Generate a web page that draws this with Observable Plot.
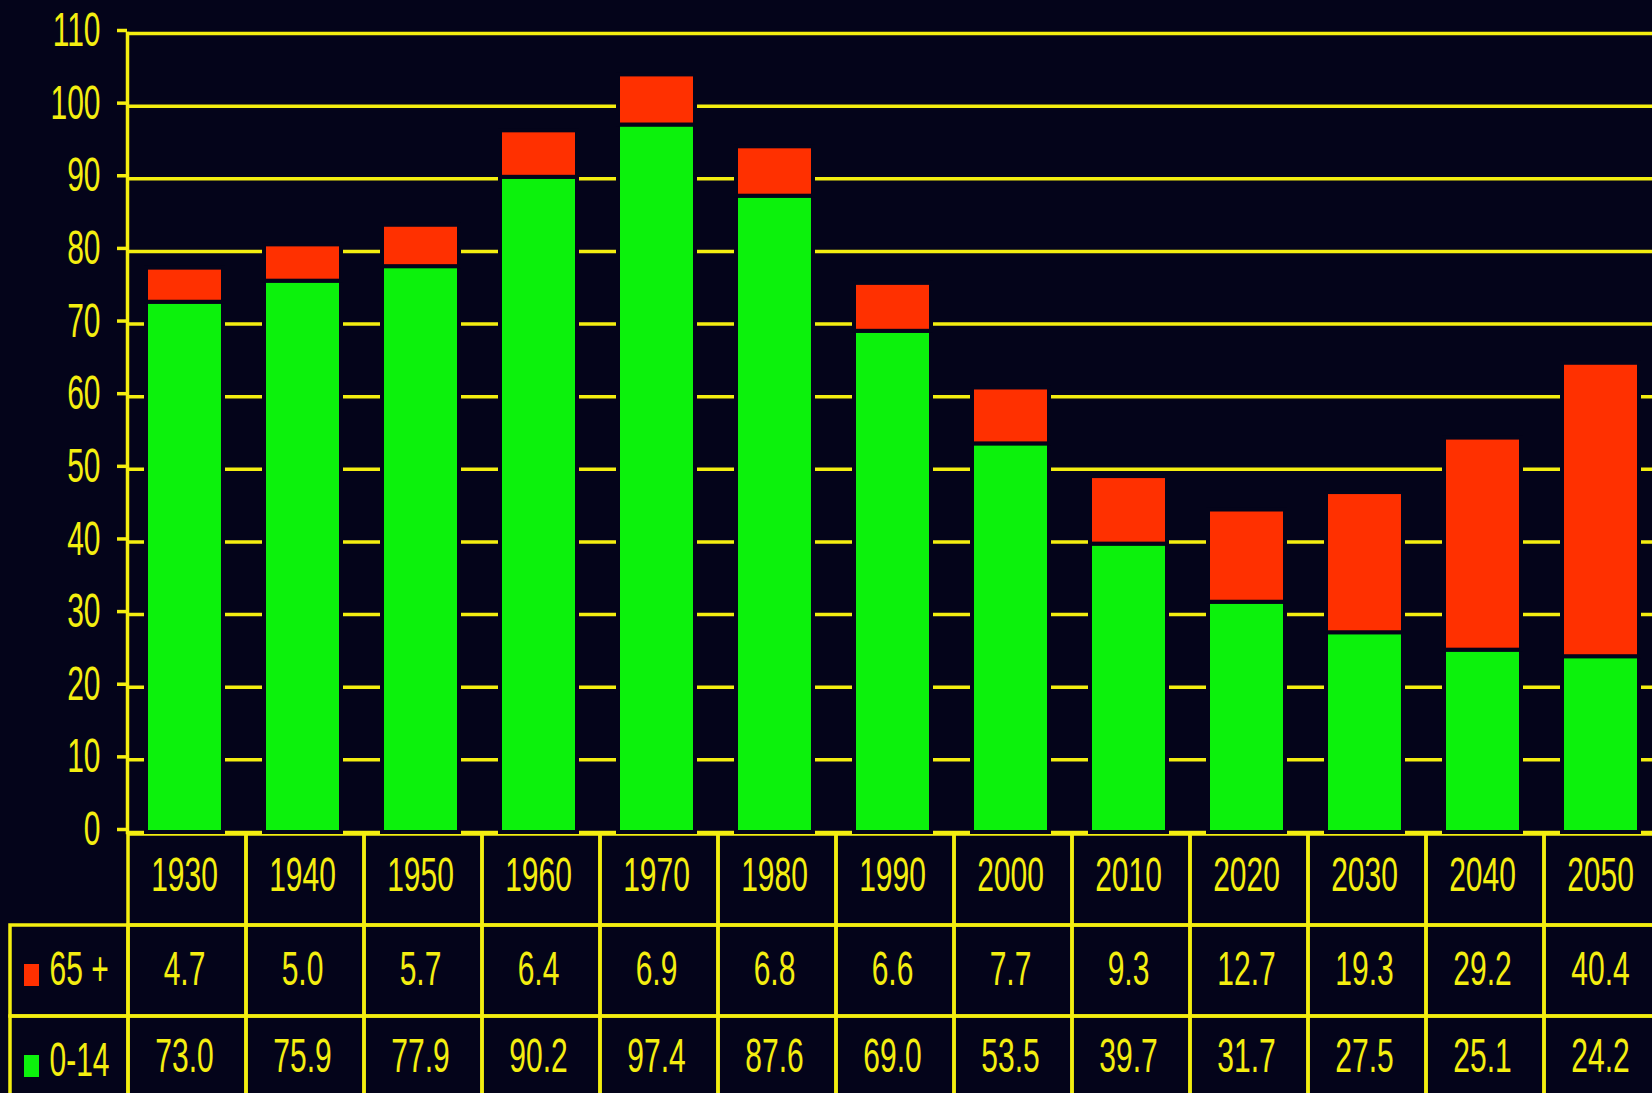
<!DOCTYPE html>
<html>
<head>
<meta charset="utf-8">
<script src="https://cdn.jsdelivr.net/npm/d3@7"></script>
<script src="https://cdn.jsdelivr.net/npm/@observablehq/plot@0.6"></script>
<style>
  html, body { margin: 0; padding: 0; background: #04041a; overflow: hidden; }
  #wrap svg { display: block; }
</style>
</head>
<body>
<div id="wrap"></div>
<script>
// ---- data ----
const years = [1930, 1940, 1950, 1960, 1970, 1980, 1990, 2000, 2010, 2020, 2030, 2040, 2050];
const age65 = [4.7, 5.0, 5.7, 6.4, 6.9, 6.8, 6.6, 7.7, 9.3, 12.7, 19.3, 29.2, 40.4];
const age014 = [73.0, 75.9, 77.9, 90.2, 97.4, 87.6, 69.0, 53.5, 39.7, 31.7, 27.5, 25.1, 24.2];
const groups = ["0-14", "65 +"];
const yTicks = [0, 10, 20, 30, 40, 50, 60, 70, 80, 90, 100, 110];

// ---- style ----
const BG = "#04041a", YEL = "#f4ee10", GREEN = "#0cf20c", RED = "#ff3000";
const FS = 30, SY = 1.62;
const W = 1663, LEFT = 127;
const colorOf = {"0-14": GREEN, "65 +": RED};

const yearStr = years.map(String);
const stacked = [];
years.forEach((y, i) => {
  stacked.push({year: String(y), group: "0-14", value: age014[i]});
  stacked.push({year: String(y), group: "65 +", value: age65[i]});
});

const baseStyle = {color: YEL, fontFamily: "'Liberation Sans', Arial, sans-serif", fontSize: FS + "px", maxWidth: "none"};

const chart = Plot.plot({
  width: W,
  style: {...baseStyle, background: BG, overflow: "visible", position: "relative", zIndex: 1},
  height: 833,
  marginTop: 33,
  marginBottom: 1,
  marginLeft: LEFT,
  marginRight: 0,
  x: {type: "band", domain: yearStr, paddingInner: 0.35, paddingOuter: 0.175, align: 0.45, axis: null},
  y: {domain: [0, 110], axis: null},
  marks: [
    Plot.gridY(yTicks, {stroke: YEL, strokeOpacity: 1, strokeWidth: 3.5}),
    Plot.axisY(yTicks, {tickSize: 10, tickPadding: 17, stroke: YEL, strokeWidth: 3.5, fill: YEL, fontSize: FS, label: null, dy: -3}),
    Plot.barY(stacked, {x: "year", y: "value", fill: d => colorOf[d.group], stroke: BG, strokeWidth: 4, order: groups}),
    Plot.frame({anchor: "left", stroke: YEL, strokeWidth: 3.5})
  ]
});

// ---- table below the chart ----
const cols = ["", ...yearStr];
const rows = ["yr", "65 +", "0-14"];
const cells = [];
yearStr.forEach(y => cells.push({x: y, row: "yr"}));
cols.forEach(c => { cells.push({x: c, row: "65 +"}); cells.push({x: c, row: "0-14"}); });
const fmt = d3.format(".1f");
const v65 = years.map((y, i) => ({x: String(y), row: "65 +", t: fmt(age65[i])}));
const v014 = years.map((y, i) => ({x: String(y), row: "0-14", t: fmt(age014[i])}));
const rectSymbol = {draw(ctx) { ctx.rect(-7.5, -11, 15, 22); }};
const legend = groups.map(g => ({x: "", row: g, c: colorOf[g]}));

const table = Plot.plot({
  width: W,
  style: {...baseStyle, background: "transparent", overflow: "hidden"},
  height: 274,
  marginTop: 0,
  marginBottom: 0,
  marginLeft: LEFT - (W - LEFT) / 13,
  marginRight: 0,
  x: {type: "band", domain: cols, padding: 0, axis: null},
  y: {type: "band", domain: rows, padding: 0, axis: null},
  marks: [
    Plot.cell(cells, {x: "x", y: "row", fill: "none", stroke: YEL, strokeWidth: 3.5, inset: 0}),
    Plot.text(yearStr, {x: d => d, y: () => "yr", text: d => d, fill: YEL, fontSize: FS, dy: -5, dx: -3}),
    Plot.text(v65, {x: "x", y: "row", text: "t", fill: YEL, fontSize: FS, dy: -2, dx: -3}),
    Plot.text(v014, {x: "x", y: "row", text: "t", fill: YEL, fontSize: FS, dy: -6, dx: -3}),
    Plot.dot(legend, {x: "x", y: "row", symbol: rectSymbol, fill: "c", stroke: "none", dx: -38, dy: 4}),
    Plot.text(legend, {x: "x", y: "row", text: "row", textAnchor: "start", fill: YEL, fontSize: FS, dx: -20, dy: -2})
  ]
});

// condensed-look digits: stretch text vertically around its anchor
function stretch(svg) {
  for (const t of svg.querySelectorAll("text")) {
    const tr = t.getAttribute("transform");
    if (tr) t.setAttribute("transform", tr + ` scale(1,${SY})`);
    else {
      const x = +t.getAttribute("x") || 0, y = +t.getAttribute("y") || 0;
      t.setAttribute("transform", `translate(${x},${y}) scale(1,${SY}) translate(${-x},${-y})`);
    }
  }
}
stretch(chart); stretch(table);

const wrap = document.getElementById("wrap");
wrap.append(chart, table);
</script>
</body>
</html>
